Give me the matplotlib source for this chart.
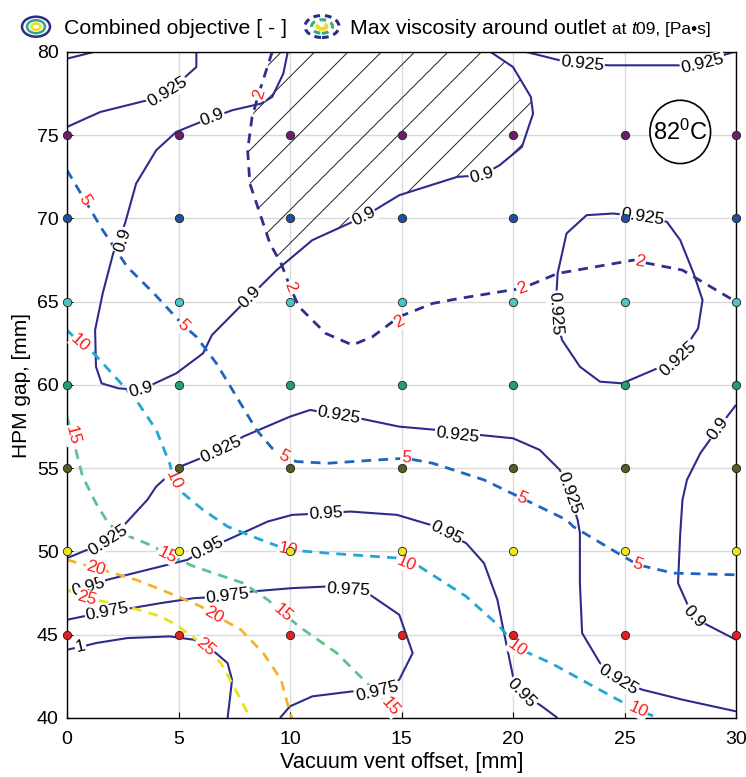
import numpy as np
import matplotlib
matplotlib.use("Agg")
import matplotlib.pyplot as plt
from matplotlib.patches import Ellipse, Polygon

# ---------------- data ----------------
x_ticks = [0, 5, 10, 15, 20, 25, 30]
y_ticks = [40, 45, 50, 55, 60, 65, 70, 75, 80]
x_label = "Vacuum vent offset, [mm]"
y_label = "HPM gap, [mm]"

# sampled design points (vent offset x HPM gap)
pt_x = [0, 5, 10, 15, 20, 25, 30]
pt_y = [45, 50, 55, 60, 65, 70, 75]
pt_colors = ['#e01f1f', '#f0e41c', '#5a5a22', '#1f9e78', '#4cc4c4', '#1f4f9e', '#6a1f6a']

# Combined objective iso-lines (solid)
obj_0950_corner_x = [0, 1.2]
obj_0950_corner_y = [79.6, 80]
obj_0925_tl_x = [0, 1.5, 3.6, 4.5, 5.3, 5.8, 5.8]
obj_0925_tl_y = [75.5, 76.4, 77.1, 77.6, 78.5, 79.1, 80]
obj_0900_u_x = [9.9, 9.7, 9.2, 8.7, 7.4, 6.0, 4.9, 4.0, 3.1, 2.6, 2.07, 1.6, 1.26, 1.3, 1.55,
                2.3, 3.3, 4.9, 6.1, 6.5, 8.2, 9.4, 11.0, 13.3, 14.9, 17.5, 18.6, 19.4, 20.4,
                20.9, 20.8, 20.0, 19.0]
obj_0900_u_y = [80, 78.7, 77.3, 76.9, 76.5, 75.8, 75.2, 74.1, 72.1, 69.7, 67.9, 65.5, 63.3, 61.1, 60.1,
                59.8, 59.7, 60.7, 61.9, 63.0, 65.3, 66.9, 68.7, 70.1, 71.4, 72.5, 72.6, 73.2, 74.3,
                76.3, 77.3, 79.1, 80]
obj_0925_tr_x = [20.6, 22.1, 23.1, 24.3, 26.0, 27.5, 28.5, 29.4, 29.9]
obj_0925_tr_y = [80, 79.5, 79.3, 79.2, 79.2, 79.2, 79.3, 79.8, 80]
obj_0925_loop_x = [24.5, 25.8, 26.9, 27.5, 28.1, 28.5, 28.3, 27.4, 26.3, 24.9, 23.9, 23.0, 22.2,
                   21.9, 22.0, 22.4, 23.3, 24.5]
obj_0925_loop_y = [70.3, 70.1, 69.8, 68.7, 66.7, 65.1, 63.4, 61.6, 60.9, 60.1, 60.2, 61.1, 62.7,
                   64.3, 66.7, 69.1, 70.2, 70.3]
obj_0925_mid_x = [0, 0.9, 1.85, 2.5, 3.6, 4.0, 4.9, 6.9, 7.9, 10.0, 10.9, 12.2, 13.1, 14.9, 16.6,
                  17.5, 18.5, 20.0, 21.2, 22.1, 22.5, 22.9, 23.0, 23.0, 23.1, 23.9, 24.7, 25.8, 27.6, 30]
obj_0925_mid_y = [49.6, 50.1, 50.7, 51.5, 53.1, 53.9, 55.0, 56.1, 56.9, 58.1, 58.5, 58.2, 58.0, 57.5, 57.3,
                  57.0, 57.0, 56.8, 56.1, 54.9, 53.5, 51.9, 51.1, 48.1, 45.1, 43.3, 42.3, 41.7, 41.1, 40.4]
obj_0900_r_x = [30, 29.2, 28.4, 27.8, 27.6, 27.5, 27.4, 27.8, 28.1, 28.7, 30]
obj_0900_r_y = [58.8, 57.4, 55.9, 54.3, 53.1, 51.1, 48.1, 46.9, 46.1, 45.6, 44.7]
obj_0950_x = [0, 0.95, 1.8, 4.2, 5.4, 6.3, 7.2, 9.0, 10.1, 11.6, 12.7, 14.8, 16.3, 17.0, 17.9,
              18.7, 19.3, 19.6, 20.0, 20.4, 21.3, 22.0]
obj_0950_y = [47.6, 47.9, 48.3, 49.1, 49.5, 50.2, 50.7, 51.8, 52.2, 52.3, 52.4, 52.2, 51.6, 51.1, 50.5,
              49.3, 47.1, 45.1, 42.5, 41.5, 40.7, 40.0]
obj_0975_x = [0, 1.8, 2.9, 4.2, 5.7, 7.2, 8.3, 10.1, 11.7, 12.6, 13.1, 13.7, 14.9, 15.5, 14.9,
              13.9, 12.8, 11.0, 10.0, 9.55]
obj_0975_y = [45.9, 46.4, 46.6, 46.9, 47.2, 47.3, 47.6, 47.8, 47.9, 47.7, 47.8, 47.3, 46.2, 43.9, 42.3,
              41.6, 41.6, 41.3, 40.7, 40.0]
obj_1000_x = [0, 0.7, 1.3, 2.7, 4.6, 5.7, 6.5, 7.2, 7.4, 7.3, 7.2]
obj_1000_y = [44.1, 44.3, 44.5, 44.8, 44.9, 44.7, 44.1, 43.3, 42.3, 41.1, 40.0]

# Max viscosity iso-lines (dashed)
vis_2_x = [9.2, 8.6, 8.3, 8.1, 8.2, 8.7, 9.1, 9.6, 10.0, 10.4, 11.6, 12.8, 13.7, 14.9, 16.4,
           17.6, 19.9, 20.4, 22.0, 25.4, 25.7, 27.6, 30]
vis_2_y = [80, 77.5, 76.1, 74.1, 72.1, 70.1, 68.5, 67.3, 65.9, 64.7, 63.1, 62.4, 62.9, 64.1, 64.9,
           65.2, 65.7, 65.8, 66.7, 67.5, 67.4, 66.9, 65.0]
vis_5_x = [0, 0.8, 1.6, 2.7, 3.9, 5.2, 5.8, 6.7, 7.6, 8.5, 9.2, 9.7, 10.3, 11.7, 13.9, 15.2, 16.4,
           18.7, 20.4, 22.4, 22.7, 24.7, 25.6, 27.2, 30]
vis_5_y = [72.9, 71.1, 69.3, 67.1, 65.5, 63.6, 62.9, 61.3, 59.3, 57.3, 56.2, 55.7, 55.4, 55.3, 55.5,
           55.6, 55.3, 54.3, 53.2, 51.9, 51.5, 49.9, 49.2, 48.7, 48.6]
vis_10_x = [0, 0.6, 1.2, 3.1, 4.0, 4.6, 4.8, 5.2, 6.1, 7.2, 8.7, 9.9, 11.7, 14.9, 15.2, 15.8, 17.9,
            19.4, 20.2, 21.7, 24.7, 25.6, 26.5]
vis_10_y = [63.3, 62.5, 61.9, 59.1, 57.3, 55.3, 54.3, 53.5, 52.5, 51.5, 50.7, 50.1, 49.9, 49.6, 49.3,
            49.1, 47.3, 45.5, 44.2, 43.3, 41.1, 40.5, 40.0]
vis_15_x = [0, 0.2, 0.7, 1.3, 1.9, 2.8, 3.9, 4.5, 5.7, 7.9, 9.0, 9.7, 10.4, 12.1, 13.6, 14.5, 14.8]
vis_15_y = [58.1, 57.1, 54.5, 52.9, 51.6, 50.9, 50.3, 49.8, 49.1, 48.1, 47.1, 46.3, 45.5, 43.9, 41.9,
            40.7, 40.0]
vis_20_x = [0, 1.3, 3.1, 4.6, 6.0, 6.6, 7.8, 8.8, 9.6, 10.0, 10.1]
vis_20_y = [49.5, 49.0, 48.3, 47.5, 46.7, 46.2, 45.3, 43.9, 42.3, 40.3, 40.0]
vis_25_x = [0, 0.9, 2.7, 4.2, 4.9, 6.2, 6.9, 7.4, 8.1, 8.2]
vis_25_y = [47.7, 47.2, 46.7, 46.1, 45.6, 44.3, 43.3, 42.1, 40.3, 40.0]

# label positions along each line
obj_lines = [
    ("0.95", obj_0950_corner_x, obj_0950_corner_y, []),
    ("0.925", obj_0925_tl_x, obj_0925_tl_y, [(4.5, 77.6)]),
    ("0.9", obj_0900_u_x, obj_0900_u_y, [(2.5, 68.7), (6.5, 76.1), (8.2, 65.3), (13.3, 70.1), (18.6, 72.6), (3.3, 59.7)]),
    ("0.925", obj_0925_tr_x, obj_0925_tr_y, [(23.1, 79.3), (28.5, 79.3)]),
    ("0.925", obj_0925_loop_x, obj_0925_loop_y, [(25.8, 70.1), (27.4, 61.6), (21.9, 64.3)]),
    ("0.925", obj_0925_mid_x, obj_0925_mid_y, [(1.85, 50.7), (6.9, 56.1), (12.2, 58.2), (17.5, 57.0), (22.5, 53.5), (24.7, 42.3)]),
    ("0.9", obj_0900_r_x, obj_0900_r_y, [(29.2, 57.4), (28.1, 46.1)]),
    ("0.95", obj_0950_x, obj_0950_y, [(0.95, 47.9), (6.3, 50.2), (11.6, 52.3), (17.0, 51.1), (20.4, 41.5)]),
    ("0.975", obj_0975_x, obj_0975_y, [(1.8, 46.4), (7.2, 47.3), (12.6, 47.7), (13.9, 41.6)]),
    ("1", obj_1000_x, obj_1000_y, [(0.6, 44.3)]),
]
vis_lines = [
    ("2", '#2e2f8c', vis_2_x, vis_2_y, [(8.6, 77.5), (10.0, 65.9), (14.9, 63.8), (20.4, 65.8), (25.7, 67.4)]),
    ("5", '#1f64be', vis_5_x, vis_5_y, [(0.8, 71.1), (5.2, 63.6), (9.7, 55.7), (15.2, 55.6), (20.4, 53.2), (25.6, 49.2)]),
    ("10", '#22a6d3', vis_10_x, vis_10_y, [(0.6, 62.5), (4.8, 54.3), (9.9, 50.1), (15.2, 49.3), (20.2, 44.2), (25.6, 40.5)]),
    ("15", '#5ec28e', vis_15_x, vis_15_y, [(0.25, 57.0), (4.5, 49.8), (9.7, 46.3), (14.5, 40.7)]),
    ("20", '#f7b12c', vis_20_x, vis_20_y, [(1.3, 49.0), (6.6, 46.2)]),
    ("25", '#e9e31a', vis_25_x, vis_25_y, [(0.9, 47.2), (6.2, 44.3)]),
]

# ---------------- style ----------------
base_font = 'Liberation Sans'
plt.rcParams['font.family'] = [base_font, 'DejaVu Sans']
plt.rcParams['mathtext.fontset'] = 'custom'
plt.rcParams['mathtext.rm'] = base_font
plt.rcParams['mathtext.it'] = base_font + ':italic'
plt.rcParams['hatch.linewidth'] = 0.7

NAVY = '#2c2c8c'
W, H = 746, 777
fig = plt.figure(figsize=(W / 100, H / 100), dpi=100)
ax = fig.add_axes([67 / W, 1 - 718 / H, (736 - 67) / W, (718 - 52) / H])
ax.set_xlim(0, 30)
ax.set_ylim(40, 80)
ax.set_xticks(x_ticks)
ax.set_yticks(y_ticks)
ax.tick_params(axis='x', direction='in', length=4, labelsize=14, pad=9)
ax.tick_params(axis='y', direction='in', length=4, labelsize=14, pad=6)
ax.grid(True, color='#d9d9d9', lw=1.0, zorder=0)
ax.set_axisbelow(True)
for s in ax.spines.values():
    s.set_linewidth(1.0)
ax.set_xlabel(x_label, fontsize=15.7, labelpad=3)
ax.set_ylabel(y_label, fontsize=15, labelpad=4)


def label_angle(xs, ys, x, y):
    pts = ax.transData.transform(np.column_stack([xs, ys]))
    p = ax.transData.transform((x, y))
    i = int(np.argmin(np.hypot(pts[:, 0] - p[0], pts[:, 1] - p[1])))
    i0, i1 = max(i - 1, 0), min(i + 1, len(xs) - 1)
    dx, dy = pts[i1] - pts[i0]
    a = np.degrees(np.arctan2(dy, dx))
    if a > 90:
        a -= 180
    if a < -90:
        a += 180
    return a


# hatched region: viscosity < 2 and objective < 0.9
hx = vis_2_x[:8] + obj_0900_u_x[22:]
hy = vis_2_y[:8] + obj_0900_u_y[22:]
ax.add_patch(Polygon(np.column_stack([hx, hy]), closed=True, facecolor='none',
                     edgecolor='#222222', lw=0, hatch='/', zorder=1.5))

for lev, xs, ys, labs in obj_lines:
    ax.plot(xs, ys, color=NAVY, lw=1.5, zorder=2, solid_capstyle='butt')
    for (lx, ly) in labs:
        ax.text(lx, ly, lev, fontsize=12.5, color='black', ha='center', va='center',
                rotation=label_angle(xs, ys, lx, ly), rotation_mode='anchor', zorder=3,
                bbox=dict(boxstyle='square,pad=0.05', fc='white', ec='none'))

for lev, col, xs, ys, labs in vis_lines:
    ax.plot(xs, ys, color=col, lw=2.0, ls=(0, (3.5, 2.6)), zorder=2)
    for (lx, ly) in labs:
        ax.text(lx, ly, lev, fontsize=12.5, color='#ff1a1a', ha='center', va='center',
                rotation=label_angle(xs, ys, lx, ly), rotation_mode='anchor', zorder=3,
                bbox=dict(boxstyle='square,pad=0.05', fc='white', ec='none'))

# sample points
for yv, c in zip(pt_y, pt_colors):
    ax.scatter(pt_x, [yv] * len(pt_x), s=36, c=c, edgecolors='#222222', linewidths=0.6,
               zorder=5, clip_on=False)

# temperature badge
ax.add_patch(Ellipse((27.5, 75.2), 2.72, 3.8, facecolor='white', edgecolor='black', lw=1.2, zorder=4))
ax.text(27.5, 75.2, r'82$^{0}$C', fontsize=17, ha='center', va='center', zorder=6)

# ---------------- legend above the axes ----------------
ft = fig.transFigure
def fx(px):
    return px / W
def fy(py):
    return 1 - py / H

BASE = 34
for w, h, col in [(28, 20, NAVY), (18, 13, '#2fa88a'), (9, 6.5, '#ede01a')]:
    fig.add_artist(Ellipse((fx(36), fy(26.7)), w / W, h / H, transform=ft,
                           facecolor='none', edgecolor=col, lw=1.8))
t1 = fig.text(fx(64), fy(BASE), 'Combined objective [ - ]', fontsize=15.3, va='baseline', ha='left')
for w, h, col, lw in [(34, 22, NAVY, 2.2), (21, 13.5, '#3aaa7e', 2.2), (9, 5, '#ede01a', 2.8)]:
    fig.add_artist(Ellipse((fx(322), fy(26.5)), w / W, h / H, transform=ft, facecolor='none',
                           edgecolor=col, lw=lw, ls=(0, (2.2, 1.6))))
t2 = fig.text(fx(350), fy(BASE), 'Max viscosity around outlet', fontsize=15.3, va='baseline', ha='left')
fig.canvas.draw()
r = fig.canvas.get_renderer()
x2 = t2.get_window_extent(r).x1 / W
t3 = fig.text(x2 + 1 / W, fy(BASE), ' at ', fontsize=12.5, va='baseline', ha='left')
fig.canvas.draw()
x3 = t3.get_window_extent(r).x1 / W
t4 = fig.text(x3, fy(BASE), 't', fontsize=13, style='italic', va='baseline', ha='left')
fig.canvas.draw()
x4 = t4.get_window_extent(r).x1 / W
fig.text(x4, fy(BASE), '09, [Pa\u2022s]', fontsize=12.5, va='baseline', ha='left')

fig.savefig('out.png', dpi=100)
